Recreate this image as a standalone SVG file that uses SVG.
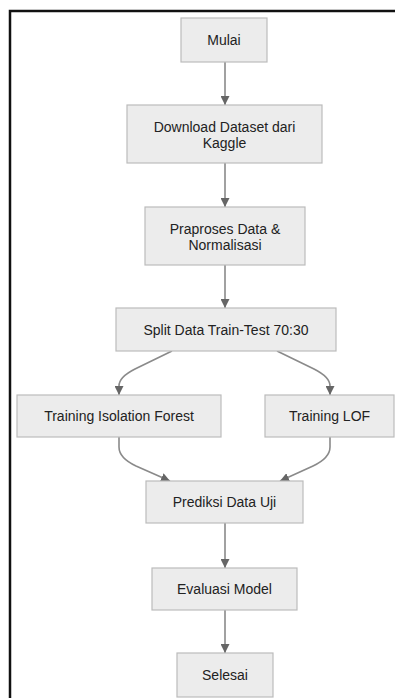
<svg xmlns="http://www.w3.org/2000/svg" width="395" height="698" viewBox="0 0 395 698">
  <style>
    .node rect { fill: #ececec; stroke: #bcbcbc; stroke-width: 1.2; }
    .node text { font-family: "Liberation Sans", Arial, sans-serif; font-size: 14px; fill: #222; text-anchor: middle; }
    .edge { fill: none; stroke: #8a8a8a; stroke-width: 1.6; marker-end: url(#arrow); }
  </style>
  <defs>
    <marker id="arrow" viewBox="0 0 10 10" refX="10" refY="5" markerWidth="9" markerHeight="9" markerUnits="userSpaceOnUse" orient="auto">
      <path d="M0,0 L10,5 L0,10 z" fill="#666"/>
    </marker>
  </defs>
  <rect width="395" height="698" fill="#fff"/>
  <!-- frame -->
  <path d="M10,698 L10,11 L395,11" fill="none" stroke="#111" stroke-width="2.5"/>

  <g id="connectors">
    <path class="edge" d="M225,62 L225,105"/>
    <path class="edge" d="M225,163 L225,207"/>
    <path class="edge" d="M225,265 L225,308"/>
    <path class="edge" d="M172,351 L135,369 Q119,377 119,386 L119,395"/>
    <path class="edge" d="M277,351 L314,369 Q330,377 330,386 L330,395"/>
    <path class="edge" d="M119,437 L119,447 Q119,458 136,466 L170,481"/>
    <path class="edge" d="M330,437 L330,447 Q330,458 313,466 L280,481"/>
    <path class="edge" d="M225,523 L225,568"/>
    <path class="edge" d="M225,610 L225,653"/>
  </g>

  <g id="mulai" class="node">
    <rect x="181" y="18" width="86" height="44"/>
    <text x="224" y="45">Mulai</text>
  </g>
  <g id="download" class="node">
    <rect x="127" y="105" width="195" height="58"/>
    <text x="224.5" y="132">Download Dataset dari</text>
    <text x="224.5" y="148">Kaggle</text>
  </g>
  <g id="praproses" class="node">
    <rect x="145" y="207" width="160" height="58"/>
    <text x="225" y="234">Praproses Data &amp;</text>
    <text x="225" y="250">Normalisasi</text>
  </g>
  <g id="split" class="node">
    <rect x="116" y="308" width="220" height="43"/>
    <text x="226" y="335">Split Data Train-Test 70:30</text>
  </g>
  <g id="train-if" class="node">
    <rect x="17" y="395" width="204" height="42"/>
    <text x="119" y="421">Training Isolation Forest</text>
  </g>
  <g id="train-lof" class="node">
    <rect x="265" y="395" width="129" height="42"/>
    <text x="329.5" y="421">Training LOF</text>
  </g>
  <g id="prediksi" class="node">
    <rect x="146" y="481" width="157" height="42"/>
    <text x="224.5" y="507">Prediksi Data Uji</text>
  </g>
  <g id="evaluasi" class="node">
    <rect x="152" y="568" width="145" height="42"/>
    <text x="224.5" y="594">Evaluasi Model</text>
  </g>
  <g id="selesai" class="node">
    <rect x="177" y="653" width="96" height="44"/>
    <text x="225" y="680">Selesai</text>
  </g>
</svg>
